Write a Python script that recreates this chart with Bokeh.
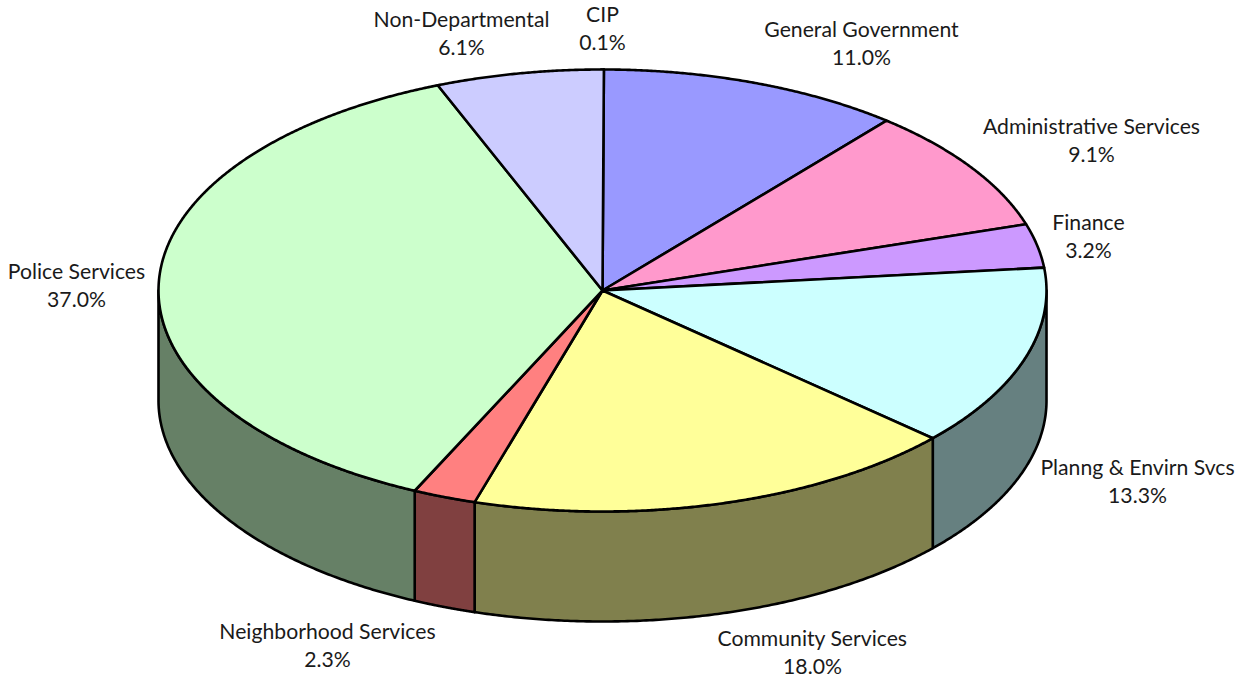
import numpy as np
from bokeh.core.properties import value
from bokeh.embed import file_html
from bokeh.models import ColumnDataSource, Range1d
from bokeh.plotting import figure
from bokeh.resources import INLINE

# Budget shares, clockwise; the CIP sliver straddles twelve o'clock
departments = ["CIP", "General Government", "Administrative Services", "Finance",
               "Planng & Envirn Svcs", "Community Services", "Neighborhood Services",
               "Police Services", "Non-Departmental"]
shares = [0.1, 11.0, 9.1, 3.2, 13.3, 18.0, 2.3, 37.0, 6.1]
top_colors = ["#000080", "#9999FF", "#FF99CC", "#CC99FF", "#CCFFFF", "#FFFF99",
              "#FF8080", "#CCFFCC", "#CCCCFF"]
side_colors = ["#000040", "#666699", "#804D66", "#664D80", "#668080", "#80804D",
               "#804040", "#668066", "#666680"]

# Label anchors: centre x, then centre y of the name and the percentage rows
label_x = [602, 861, 1091, 1088, 1137, 812, 327, 76, 461]
name_y = [13, 28, 125, 221, 466, 637, 630, 270, 18]
pct_y = [41, 56, 153, 249, 494, 665, 658, 298, 46]

WIDTH, HEIGHT = 1249, 677
CX, CY, RX, RY, DEPTH = 602.0, 290.0, 444.0, 221.0, 110.0
FONT = "Lato"
FONT_SIZE = "21.2px"
STROKE = 2.6


def rim(theta_deg, drop=0.0):
    """Points on the pie's elliptical rim; theta runs clockwise from the top."""
    t = np.radians(theta_deg)
    return CX + RX * np.sin(t), CY - RY * np.cos(t) + drop


edges = (np.concatenate([[0.0], np.cumsum(shares)]) - shares[0] / 2) * 3.6

p = figure(width=WIDTH, height=HEIGHT, output_backend="svg", toolbar_location=None,
           x_range=Range1d(0, WIDTH), y_range=Range1d(HEIGHT, 0), min_border=0,
           outline_line_color=None, background_fill_color="white")
p.axis.visible = False
p.grid.visible = False

# Outer wall: only the part of each slice on the near half of the rim shows
wall_xs, wall_ys, wall_fill = [], [], []
for start, stop, color in zip(edges[:-1], edges[1:], side_colors):
    lo, hi = max(start, 90.0), min(stop, 270.0)
    if hi <= lo:
        continue
    theta = np.linspace(lo, hi, 160)
    tx, ty = rim(theta)
    bx, by = rim(theta[::-1], DEPTH)
    wall_xs.append(np.concatenate([tx, bx]).tolist())
    wall_ys.append(np.concatenate([ty, by]).tolist())
    wall_fill.append(color)
p.patches(wall_xs, wall_ys, fill_color=wall_fill, line_color="black",
          line_width=STROKE, line_join="round")

# Top face of every slice
top_xs, top_ys = [], []
for start, stop in zip(edges[:-1], edges[1:]):
    theta = np.linspace(start, stop, max(int(stop - start) * 4, 4))
    tx, ty = rim(theta)
    top_xs.append([CX, *tx.tolist()])
    top_ys.append([CY, *ty.tolist()])
p.patches(top_xs, top_ys, fill_color=top_colors, line_color="black",
          line_width=STROKE, line_join="round")

# Two-row labels: department name above its percentage
names = ColumnDataSource(dict(x=label_x, y=name_y, text=departments))
pcts = ColumnDataSource(dict(x=label_x, y=pct_y, text=[f"{s:.1f}%" for s in shares]))
for src in (names, pcts):
    p.text("x", "y", text="text", source=src, text_align="center",
           text_baseline="middle", text_font=value(FONT),
           text_font_size=value(FONT_SIZE), text_color="#1a1a1a")

open("out.html", "w").write(file_html(p, INLINE))
